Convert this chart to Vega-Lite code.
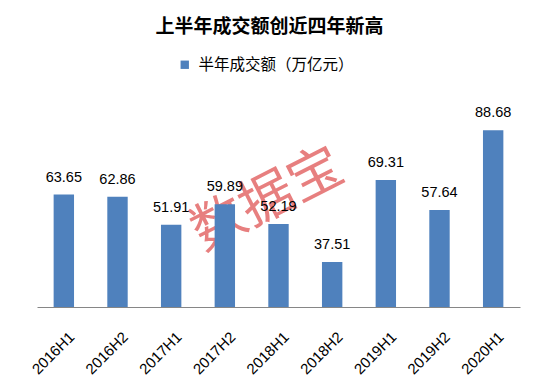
{
  "$schema": "https://vega.github.io/schema/vega-lite/v6.json",
  "width": 483,
  "height": 206,
  "autosize": "none",
  "padding": {"left": 37, "top": 101, "right": 19, "bottom": 79},
  "background": "white",
  "title": {
    "text": "上半年成交额创近四年新高",
    "font": "Noto Sans CJK SC",
    "fontSize": 19,
    "fontWeight": "bold",
    "color": "#000000",
    "anchor": "middle",
    "offset": 20,
    "dx": -9
  },
  "config": {
    "view": {"stroke": null},
    "font": "Liberation Sans"
  },
  "data": {
    "values": [
      {"period": "2016H1", "amount": 63.65, "series": "半年成交额（万亿元）"},
      {"period": "2016H2", "amount": 62.86, "series": "半年成交额（万亿元）"},
      {"period": "2017H1", "amount": 51.91, "series": "半年成交额（万亿元）"},
      {"period": "2017H2", "amount": 59.89, "series": "半年成交额（万亿元）"},
      {"period": "2018H1", "amount": 52.19, "series": "半年成交额（万亿元）"},
      {"period": "2018H2", "amount": 37.51, "series": "半年成交额（万亿元）"},
      {"period": "2019H1", "amount": 69.31, "series": "半年成交额（万亿元）"},
      {"period": "2019H2", "amount": 57.64, "series": "半年成交额（万亿元）"},
      {"period": "2020H1", "amount": 88.68, "series": "半年成交额（万亿元）"}
    ]
  },
  "encoding": {
    "x": {
      "field": "period",
      "type": "nominal",
      "sort": null,
      "scale": {
        "domain": ["2016H1", "2016H2", "2017H1", "2017H2", "2018H1", "2018H2", "2019H1", "2019H2", "2020H1"],
        "paddingInner": 0.62,
        "paddingOuter": 0.31
      },
      "axis": {
        "title": null,
        "domainColor": "#868686",
        "domainWidth": 1,
        "ticks": false,
        "grid": false,
        "labelAngle": -45,
        "labelAlign": "right",
        "labelBaseline": "top",
        "labelPadding": 22,
        "labelOffset": 3,
        "labelFont": "Liberation Sans",
        "labelFontSize": 15,
        "labelColor": "#000000"
      }
    }
  },
  "layer": [
    {
      "data": {"values": [{"period": "2018H1", "amount": 63.5, "wm": "数据宝"}]},
      "mark": {
        "type": "text",
        "font": "Noto Sans CJK SC",
        "fontSize": 54,
        "angle": -27,
        "color": "#E05555",
        "opacity": 0.75,
        "align": "center",
        "baseline": "middle",
        "dx": -12
      },
      "encoding": {
        "y": {"field": "amount", "type": "quantitative", "scale": {"domain": [20, 100], "zero": false}, "axis": null},
        "text": {"field": "wm"}
      }
    },
    {
      "mark": {"type": "bar", "color": "#4F81BD"},
      "encoding": {
        "y": {"field": "amount", "type": "quantitative", "scale": {"domain": [20, 100], "zero": false}, "axis": null},
        "y2": {"datum": 20},
        "fill": {
          "field": "series",
          "type": "nominal",
          "scale": {"range": ["#4F81BD"]},
          "legend": {
            "title": null,
            "orient": "none",
            "legendX": 140,
            "legendY": -44,
            "symbolType": "square",
            "symbolSize": 70,
            "symbolStrokeWidth": 0,
            "labelFont": "Noto Sans CJK SC",
            "labelFontSize": 15.5,
            "labelColor": "#000000",
            "labelOffset": 6
          }
        }
      }
    },
    {
      "mark": {"type": "text", "fontSize": 14.5, "font": "Liberation Sans", "color": "#000000", "baseline": "alphabetic", "dy": -13},
      "encoding": {
        "y": {"field": "amount", "type": "quantitative", "scale": {"domain": [20, 100], "zero": false}, "axis": null},
        "text": {"field": "amount", "type": "quantitative", "format": ".2f"}
      }
    }
  ]
}
